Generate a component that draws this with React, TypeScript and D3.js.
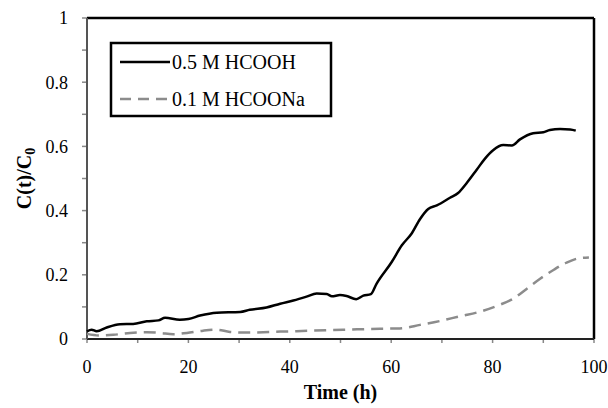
import React from "react";
import * as d3 from "d3";

// 0.5 M HCOOH
const acidTime = [0, 0.9, 1.9, 3.9, 6.5, 9.1, 11.8, 14.1, 15.4, 18.3, 20, 22.3, 25.6, 30.2, 32.1, 35.4, 38.1, 40.7, 43.3, 45.3, 47.3, 48.3, 49.9, 51.2, 53.1, 54.5, 56.0, 57.1, 60.1, 62.1, 64.0, 65.7, 67.3, 69.0, 71.6, 73.2, 74.9, 76.9, 78.5, 80.1, 82.1, 83.8, 85.4, 88.0, 90.0, 91.3, 93.3, 95.3, 96.4];
const acidValue = [0.024, 0.029, 0.024, 0.036, 0.046, 0.047, 0.055, 0.058, 0.066, 0.06, 0.062, 0.073, 0.082, 0.084, 0.091, 0.098, 0.11, 0.12, 0.132, 0.142, 0.14, 0.133, 0.137, 0.134, 0.124, 0.135, 0.14, 0.172, 0.24, 0.292, 0.328, 0.374, 0.405, 0.416, 0.44, 0.455, 0.486, 0.528, 0.562, 0.588, 0.604, 0.603, 0.622, 0.641, 0.644, 0.651, 0.654, 0.653, 0.649];

// 0.1 M HCOONa
const saltTime = [0, 2.6, 5.2, 8.5, 11.8, 14.4, 17.0, 19.7, 22.9, 25.6, 28.2, 31.5, 38.1, 44.6, 51.2, 57.8, 61.7, 65.7, 69.6, 73.6, 77.5, 81.5, 84.1, 86.7, 89.3, 92.0, 94.6, 97.2, 99];
const saltValue = [0.016, 0.011, 0.013, 0.019, 0.021, 0.019, 0.015, 0.019, 0.026, 0.029, 0.022, 0.02, 0.023, 0.026, 0.029, 0.032, 0.033, 0.044, 0.056, 0.071, 0.085, 0.107, 0.126, 0.156, 0.187, 0.215, 0.238, 0.252, 0.254];

const xTicks = [0, 20, 40, 60, 80, 100];
const yTicks = [0, 0.2, 0.4, 0.6, 0.8, 1];

const W = 608;
const H = 408;
const m = { left: 87, right: 14, top: 18, bottom: 69 };

export default function App() {
  const x = d3.scaleLinear().domain([0, 100]).range([m.left, W - m.right]);
  const y = d3.scaleLinear().domain([0, 1]).range([H - m.bottom, m.top]);

  const line = d3
    .line<[number, number]>()
    .x((d) => x(d[0]))
    .y((d) => y(d[1]))
    .curve(d3.curveMonotoneX);

  const acid = acidTime.map((t, i) => [t, acidValue[i]] as [number, number]);
  const salt = saltTime.map((t, i) => [t, saltValue[i]] as [number, number]);

  const minorX = d3.range(0, 101, 10);
  const minorY = d3.range(0, 1.01, 0.1);

  return (
    <svg
      width={W}
      height={H}
      style={{ position: "absolute", left: 0, top: 0, fontFamily: "Liberation Serif, DejaVu Serif, serif" }}
    >
      <rect width={W} height={H} fill="#fff" />

      {/* ticks */}
      {minorY.map((v) => (
        <line key={"yt" + v} x1={x(0) - 5} x2={x(0)} y1={y(v)} y2={y(v)} stroke="#888" strokeWidth={1.5} />
      ))}
      {minorX.map((v) => (
        <line key={"xt" + v} x1={x(v)} x2={x(v)} y1={y(0)} y2={y(0) + 4} stroke="#888" strokeWidth={1.5} />
      ))}

      {/* frame */}
      <line x1={x(0)} x2={x(100)} y1={y(1)} y2={y(1)} stroke="#000" strokeWidth={2.5} />
      <line x1={x(100)} x2={x(100)} y1={y(1)} y2={y(0)} stroke="#000" strokeWidth={2.5} />
      <line x1={x(0)} x2={x(100)} y1={y(0)} y2={y(0)} stroke="#222" strokeWidth={2} />
      <line x1={x(0)} x2={x(0)} y1={y(1)} y2={y(0)} stroke="#555" strokeWidth={2} />

      {/* tick labels */}
      {yTicks.map((v) => (
        <text key={"yl" + v} x={x(0) - 19} y={y(v)} dy="0.35em" textAnchor="end" fontSize={18}>
          {v}
        </text>
      ))}
      {xTicks.map((v) => (
        <text key={"xl" + v} x={x(v)} y={y(0) + 28} dy="0.35em" textAnchor="middle" fontSize={18}>
          {v}
        </text>
      ))}

      {/* series */}
      <path d={line(salt) ?? ""} fill="none" stroke="#8c8c8c" strokeWidth={2.5} strokeDasharray="12 7" />
      <path d={line(acid) ?? ""} fill="none" stroke="#000" strokeWidth={2.5} />

      {/* legend */}
      <rect x={111} y={43} width={220} height={73} fill="#fff" stroke="#000" strokeWidth={2.5} />
      <line x1={120} x2={170} y1={62} y2={62} stroke="#000" strokeWidth={2.5} />
      <text x={172} y={62} dy="0.35em" fontSize={20}>0.5 M HCOOH</text>
      <line x1={120} x2={170} y1={99} y2={99} stroke="#8c8c8c" strokeWidth={2.5} strokeDasharray="11 7" />
      <text x={172} y={99} dy="0.35em" fontSize={20}>0.1 M HCOONa</text>

      {/* axis titles */}
      <text x={(x(0) + x(100)) / 2} y={399} textAnchor="middle" fontSize={20} fontWeight="bold">
        Time (h)
      </text>
      <text transform={`translate(31, ${(y(0) + y(1)) / 2}) rotate(-90)`} textAnchor="middle" fontSize={20} fontWeight="bold">
        C(t)/C<tspan fontSize={14} dy={4}>0</tspan>
      </text>
    </svg>
  );
}
